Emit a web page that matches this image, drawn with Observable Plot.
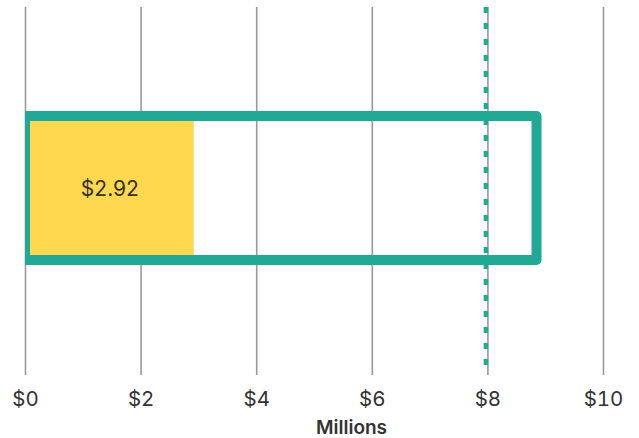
<!DOCTYPE html>
<html>
<head>
<meta charset="utf-8">
<script src="https://cdn.jsdelivr.net/npm/d3@7"></script>
<script src="https://cdn.jsdelivr.net/npm/@observablehq/plot@0.6"></script>
<style>
  html, body { margin: 0; padding: 0; background: #fff; }
  #chart svg { display: block; }
</style>
</head>
<body>
<div id="chart"></div>
<script>
const categories = ["Total"];
const actualValues = [2.92];
const rangeValues = [8.85];
const targetValues = [8];
const tickValues = [0, 2, 4, 6, 8, 10];
const tickLabels = ["$0", "$2", "$4", "$6", "$8", "$10"];
const axisTitle = "Millions";

const actual = categories.map((c, i) => ({category: c, value: actualValues[i], label: "$" + actualValues[i].toFixed(2)}));
const range = categories.map((c, i) => ({category: c, value: rangeValues[i]}));

const teal = "#22a896";
const yellow = "#ffd84f";
const font = "Inter, 'Libre Franklin', 'DejaVu Sans', sans-serif";

const chart = Plot.plot({
  width: 639,
  height: 438,
  marginLeft: 25,
  marginRight: 36,
  marginTop: 7,
  marginBottom: 70,
  style: {fontFamily: font, fontSize: "20px", color: "#333", background: "#fff"},
  x: {domain: [0, 10], ticks: tickValues, label: null},
  y: {domain: categories, padding: 0.43, axis: null},
  marks: [
    Plot.gridX(tickValues, {stroke: "#999", strokeOpacity: 1, strokeWidth: 1.6}),
    Plot.barX(actual, {x: "value", y: "category", fill: yellow}),
    Plot.text(actual, {x: d => d.value / 2, y: "category", text: "label", fill: "#333", fontSize: 21, dy: 1}),
    Plot.ruleX(targetValues, {stroke: teal, strokeWidth: 4.5, strokeDasharray: "6,10", dx: -2}),
    Plot.barX(range, {x: "value", y: "category", fill: "none", stroke: teal, strokeWidth: 10, strokeLinejoin: "round", clip: true}),
    Plot.ruleY([0], {frameAnchor: "bottom", stroke: "#999", strokeWidth: 1.6}),
    Plot.axisX(tickValues, {
      tickSize: 7, tickPadding: 16, stroke: "#999", strokeWidth: 1.6,
      tickFormat: (d) => tickLabels[tickValues.indexOf(d)],
      fill: "#333", fontSize: 20.5, label: null
    }),
    Plot.text([axisTitle], {frameAnchor: "bottom", dx: 37, dy: 65, fill: "#333", fontSize: 19, fontWeight: 600})
  ]
});
document.getElementById("chart").appendChild(chart);
</script>
</body>
</html>
